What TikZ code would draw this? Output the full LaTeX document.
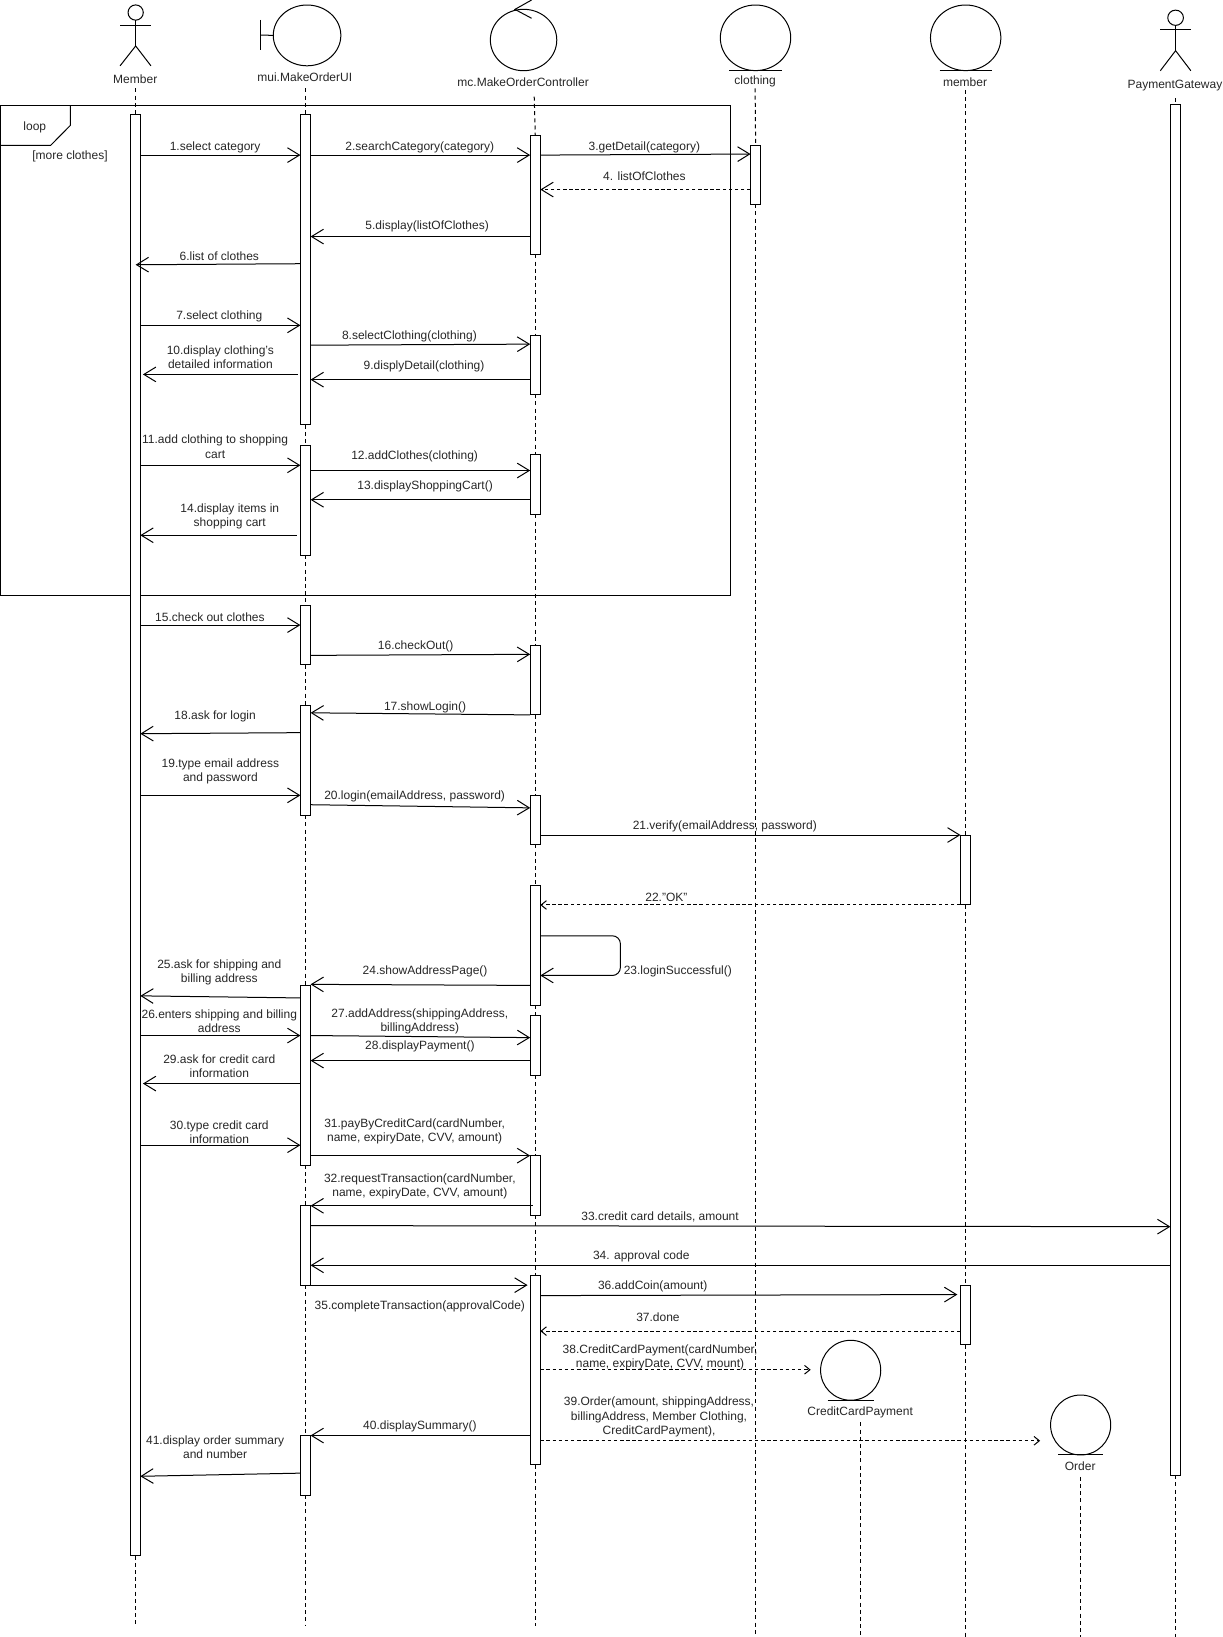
\documentclass[tikz,border=0pt]{standalone}
\usepackage{fontspec}
\setmainfont{Liberation Sans}
\usetikzlibrary{arrows.meta,calc,shapes.geometric}
\def\un{0.7833pt}
\tikzset{
  ln/.style={line width=0.75pt,draw=black},
  actb/.style={ln,fill=white,rectangle,inner sep=0pt,outer sep=0pt,minimum width=7.6pt},
  life/.style={line width=0.75pt,draw=black,dash pattern=on 3pt off 2.4pt},
  msg/.style={ln,-{Straight Barb[length=9pt,width=11pt,line width=0.75pt]}},
  ret/.style={line width=0.75pt,draw=black,dash pattern=on 2.6pt off 2pt,-{Straight Barb[length=9pt,width=11pt,line width=0.75pt]}},
  rets/.style={line width=0.75pt,draw=black,dash pattern=on 2.6pt off 2pt,-{Straight Barb[length=4pt,width=6.5pt,line width=0.75pt]}},
  lab/.style={inner sep=0pt,outer sep=0pt,align=center,text=black!85,yshift=-0.9pt,font=\fontsize{9}{10.6}\selectfont},
  circ/.style={ln,ellipse,inner sep=0pt,outer sep=0pt},
}
\newcommand\actbar[4]{\node[actb,minimum height={(#4-#3)*\un}] (#1) at (#2,{(#3+#4)/2-0.5}) {};}
\newcommand\lbl[4]{\node[lab] (#1) at (#2,#3) {#4};}
\newcommand\msgto[7]{\draw[#1] ($(#2 |- 0,#3-0.5)+(#4,0)$) -- ($(#5 |- 0,#6-0.5)+(#7,0)$);}
\newcommand\entity[6]{\node[circ,minimum width={2*#4*\un},minimum height={2*#5*\un}] (#1) at (#2,#3) {};
  \draw[ln] ($(#1.south)+(-#6,0)$) -- ($(#1.south)+(#6,0)$);}
\begin{document}
\begin{tikzpicture}[x=0.7833pt,y=-0.7833pt]
\useasboundingbox (0,0) rectangle (1171,1567.4);
% loop frame
\coordinate (ftl) at (0,101);
\coordinate (fbr) at (699,570);
\draw[ln] (ftl) rectangle (fbr);
\draw[ln] (67.4,101) -- (67.4,120) -- (48.5,139.2) -- (0,139.2);
\lbl{tloop}{33.3}{120.6}{loop}
\lbl{tmore}{67}{149}{[more clothes]}
% actors and objects
\node[circ,minimum width={14.6*\un},minimum height={14.6*\un}] (mhead) at (129.9,12) {};
\coordinate (mhip) at (129.9,44);
\draw[ln] (mhead.south) -- (mhip);
\draw[ln] (115,24) -- (144.5,24);
\draw[ln] (115,63) -- (mhip) -- (144.5,63);
\lbl{tmember}{129.5}{75}{Member}
\node[circ,minimum width={64.7*\un},minimum height={58.2*\un}] (uic) at (294,33.9) {};
\draw[ln] (249.5,19) -- (249.5,48);
\draw[ln] (249.5,33.5) -- (uic.west);
\lbl{tui}{291.8}{72.8}{mui.MakeOrderUI}
\node[circ,minimum width={63.6*\un},minimum height={58.8*\un}] (ctl) at (501.3,38.3) {};
\coordinate (ctip) at (493,9);
\draw[ln] (509,0) -- (ctip) -- (509,17.5);
\lbl{tctl}{500.9}{77.2}{mc.MakeOrderController}
\entity{clo}{723.4}{36.2}{33.7}{31.4}{25}
\lbl{tclo}{723}{77.2}{clothing}
\entity{mem}{924.6}{36.2}{33.7}{31.4}{25}
\lbl{tmem}{924}{77.2}{member}
\node[circ,minimum width={15*\un},minimum height={14.6*\un}] (phead) at (1125.6,17) {};
\coordinate (phip) at (1125.6,48.5);
\draw[ln] (phead.south) -- (phip);
\draw[ln] (1111,28.7) -- (1140.2,28.7);
\draw[ln] (1111,67.7) -- (phip) -- (1140.2,67.7);
\lbl{tpg}{1125}{80.4}{PaymentGateway}
\entity{ccp}{814.5}{1312}{28.8}{28.7}{22}
\lbl{tccp}{823.6}{1351}{CreditCardPayment}
\entity{ord}{1034.7}{1364.4}{28.8}{28.7}{21.5}
\lbl{tord}{1034.3}{1403}{Order}
% activation bars
\actbar{m1}{129.5}{110}{1490}
\actbar{u1}{292.5}{110}{407}
\actbar{u2}{292.5}{427}{532}
\actbar{u3}{292.5}{580}{637}
\actbar{u4}{292.5}{676}{781}
\actbar{u5}{292.5}{944}{1116}
\actbar{u6}{292.5}{1155}{1231}
\actbar{u7}{292.5}{1375}{1432}
\actbar{c1}{512.5}{130}{244}
\actbar{c2}{512.5}{322}{378}
\actbar{c3}{512.5}{436}{493}
\actbar{c4}{512.5}{619}{685}
\actbar{c5}{512.5}{762}{809}
\actbar{c6}{512.5}{848}{963}
\actbar{c7}{512.5}{973}{1030}
\actbar{c8}{512.5}{1107}{1164}
\actbar{c9}{512.5}{1222}{1403}
\actbar{cl1}{723.5}{140}{196}
\actbar{me1}{924.5}{800}{867}
\actbar{me2}{924.5}{1231}{1288}
\actbar{pg}{1125.5}{101}{1413}
% lifelines
\coordinate (lm0) at (129.5,84.6);
\coordinate (lme) at (129.5,1557);
\coordinate (lu0) at (292.5,84.6);
\coordinate (lue) at (292.5,1557);
\coordinate (lc0) at (511.5,92.6);
\coordinate (lce) at (512.5,1557);
\coordinate (lk0) at (723,84.6);
\coordinate (lke) at (723.5,1568);
\coordinate (le0) at (924.5,86);
\coordinate (lee) at (924.5,1568);
\coordinate (lpe) at (1125.5,1568);
\coordinate (lp0) at (1125.5,94);
\coordinate (lx0) at (824,1362);
\coordinate (lxe) at (824,1568);
\coordinate (lo0) at (1034.5,1414);
\coordinate (loe) at (1034.5,1568);
\draw[life] (lm0) -- (m1.north);
\draw[life] (m1.south) -- (lme);
\draw[life] (lu0) -- (u1.north);
\draw[life] (u1.south) -- (u2.north);
\draw[life] (u2.south) -- (u3.north);
\draw[life] (u3.south) -- (u4.north);
\draw[life] (u4.south) -- (u5.north);
\draw[life] (u5.south) -- (u6.north);
\draw[life] (u6.south) -- (u7.north);
\draw[life] (u7.south) -- (lue);
\draw[life] (lc0) -- (c1.north);
\draw[life] (c1.south) -- (c2.north);
\draw[life] (c2.south) -- (c3.north);
\draw[life] (c3.south) -- (c4.north);
\draw[life] (c4.south) -- (c5.north);
\draw[life] (c5.south) -- (c6.north);
\draw[life] (c6.south) -- (c7.north);
\draw[life] (c7.south) -- (c8.north);
\draw[life] (c8.south) -- (c9.north);
\draw[life] (c9.south) -- (lce);
\draw[life] (lk0) -- (cl1.north);
\draw[life] (cl1.south) -- (lke);
\draw[life] (le0) -- (me1.north);
\draw[life] (me1.south) -- (me2.north);
\draw[life] (me2.south) -- (lee);
\draw[life] (lp0) -- (pg.north);
\draw[life] (pg.south) -- (lpe);
\draw[life] (lx0) -- (lxe);
\draw[life] (lo0) -- (loe);
% messages
\msgto{msg}{m1.east}{149}{0}{u1.west}{149}{0}
\lbl{t1}{206}{139.5}{1.select category}
\msgto{msg}{u1.east}{149}{0}{c1.west}{149}{0}
\lbl{t2}{402}{139.5}{2.searchCategory(category)}
\msgto{msg}{c1.east}{149}{0}{cl1.west}{148}{0}
\lbl{t3}{617}{139.5}{3.getDetail(category)}
\msgto{ret}{cl1.west}{182}{0}{c1.east}{182}{0}
\lbl{t4}{617}{168}{4. listOfClothes}
\msgto{msg}{c1.west}{227}{0}{u1.east}{227}{0}
\lbl{t5}{409}{216}{5.display(listOfClothes)}
\msgto{msg}{u1.west}{253}{0}{m1.east}{254}{-4.5}
\lbl{t6}{210}{244.5}{6.list of clothes}
\msgto{msg}{m1.east}{312}{0}{u1.west}{312}{0}
\lbl{t7}{210}{302}{7.select clothing}
\msgto{msg}{u1.east}{331}{0}{c2.west}{330}{0}
\lbl{t8}{392}{321}{8.selectClothing(clothing)}
\msgto{msg}{c2.west}{364}{0}{u1.east}{364}{0}
\lbl{t9}{406}{350}{9.displyDetail(clothing)}
\msgto{msg}{u1.west}{359}{-2.5}{m1.east}{359}{2.5}
\lbl{t10}{211}{340.5}{10.display clothing's\\detailed information}
\msgto{msg}{m1.east}{446}{0}{u2.west}{446}{0}
\lbl{t11}{206}{426.5}{11.add clothing to shopping\\cart}
\msgto{msg}{u2.east}{451}{0}{c3.west}{451}{0}
\lbl{t12}{397}{436}{12.addClothes(clothing)}
\msgto{msg}{c3.west}{479}{0}{u2.east}{479}{0}
\lbl{t13}{407}{465}{13.displayShoppingCart()}
\msgto{msg}{u2.west}{513}{-3.5}{m1.east}{513}{0}
\lbl{t14}{220}{493.5}{14.display items in\\shopping cart}
\msgto{msg}{m1.east}{599}{0}{u3.west}{599}{0}
\lbl{t15}{201}{589.5}{15.check out clothes}
\msgto{msg}{u3.east}{628}{0}{c4.west}{627}{0}
\lbl{t16}{398}{618}{16.checkOut()}
\msgto{msg}{c4.west}{685}{0}{u4.east}{683}{0}
\lbl{t17}{407}{676}{17.showLogin()}
\msgto{msg}{u4.west}{702}{0}{m1.east}{703}{0}
\lbl{t18}{206}{685}{18.ask for login}
\msgto{msg}{m1.east}{762}{0}{u4.west}{762}{0}
\lbl{t19}{211}{737.5}{19.type email address\\and password}
\msgto{msg}{u4.east}{771}{0}{c5.west}{774}{0}
\lbl{t20}{397}{761}{20.login(emailAddress, password)}
\msgto{msg}{c5.east}{800}{0}{me1.west}{800}{0}
\lbl{t21}{694}{790}{21.verify(emailAddress, password)}
\msgto{rets}{me1.west}{867}{0}{c6.east}{867}{0}
\lbl{t22}{638}{858}{22."OK"}
\coordinate (selfr) at (594,915);
\draw[msg,rounded corners=6pt] (c6.east |- 0,896) -- (selfr |- 0,896) -- (selfr |- 0,934) -- (c6.east |- 0,934);
\lbl{t23}{649}{929}{23.loginSuccessful()}
\msgto{msg}{c6.west}{944}{0}{u5.east}{943}{0}
\lbl{t24}{407}{929}{24.showAddressPage()}
\msgto{msg}{u5.west}{956}{0}{m1.east}{954}{0}
\lbl{t25}{210}{929.5}{25.ask for shipping and\\billing address}
\msgto{msg}{m1.east}{992}{0}{u5.west}{992}{0}
\lbl{t26}{210}{977}{26.enters shipping and billing\\address}
\msgto{msg}{u5.east}{992}{0}{c7.west}{994}{0}
\lbl{t27}{402}{977}{27.addAddress(shippingAddress,\\billingAddress)}
\msgto{msg}{c7.west}{1016}{0}{u5.east}{1016}{0}
\lbl{t28}{402}{1001}{28.displayPayment()}
\msgto{msg}{u5.west}{1038}{0}{m1.east}{1038}{2.5}
\lbl{t29}{210}{1020}{29.ask for credit card\\information}
\msgto{msg}{m1.east}{1097}{0}{u5.west}{1097}{0}
\lbl{t30}{210}{1082.5}{30.type credit card\\information}
\msgto{msg}{u5.east}{1107}{0}{c8.west}{1107}{0}
\lbl{t31}{397}{1082.5}{31.payByCreditCard(cardNumber,\\name, expiryDate, CVV, amount)}
\msgto{msg}{c8.west}{1155}{2.5}{u6.east}{1155}{0}
\lbl{t32}{402}{1135}{32.requestTransaction(cardNumber,\\name, expiryDate, CVV, amount)}
\msgto{msg}{u6.east}{1174}{0}{pg.west}{1175}{0}
\lbl{t33}{632}{1164}{33.credit card details, amount}
\msgto{msg}{pg.west}{1212}{0}{u6.east}{1212}{0}
\lbl{t34}{614}{1202}{34. approval code}
\msgto{msg}{u6.west}{1231}{0}{c9.west}{1231}{-2.5}
\lbl{t35}{402}{1250}{35.completeTransaction(approvalCode)}
\msgto{msg}{c9.east}{1241}{0}{me2.west}{1240}{-3}
\lbl{t36}{625}{1231}{36.addCoin(amount)}
\msgto{rets}{me2.west}{1275}{0}{c9.east}{1275}{0}
\lbl{t37}{630}{1260}{37.done}
\msgto{rets}{c9.east}{1312}{0}{ccp.west}{1312}{-9.5}
\lbl{t38}{632}{1298.5}{38.CreditCardPayment(cardNumber,\\name, expiryDate, CVV, mount)}
\msgto{rets}{c9.east}{1380}{0}{ord.west}{1380}{-10}
\lbl{t39}{631}{1355.5}{39.Order(amount, shippingAddress,\\billingAddress, Member Clothing,\\CreditCardPayment),}
\msgto{msg}{c9.west}{1375}{0}{u7.east}{1375}{0}
\lbl{t40}{402}{1365}{40.displaySummary()}
\msgto{msg}{u7.west}{1411}{0}{m1.east}{1414}{0}
\lbl{t41}{206}{1384.5}{41.display order summary\\and number}
\end{tikzpicture}
\end{document}
